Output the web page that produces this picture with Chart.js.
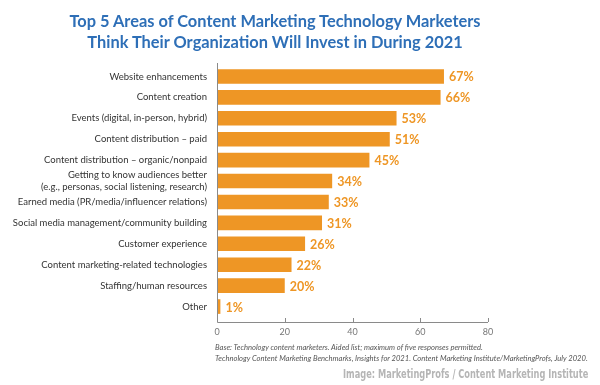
<!DOCTYPE html>
<html>
<head>
<meta charset="utf-8">
<script src="https://cdn.jsdelivr.net/npm/chart.js@4"></script>
<style>
  html, body { margin: 0; padding: 0; background: #fff; }
  #wrap { position: relative; width: 600px; height: 385px; overflow: hidden; }
  #title {
    position: absolute; left: 0; top: 10px; width: 550px; text-align: center;
    font-family: Lato, sans-serif; font-weight: bold; font-size: 16.4px; line-height: 21px;
    color: #2e6fb7;
  }
  .note {
    position: absolute; left: 215px; font-family: Lato, sans-serif; font-style: italic;
    font-size: 7.6px; color: #555; white-space: nowrap;
  }
  #credit {
    position: absolute; right: 12px; top: 366px; font-family: "DejaVu Sans", sans-serif;
    font-weight: bold; font-size: 13px; color: #b5b5b5; white-space: nowrap;
    transform: scaleX(0.635); transform-origin: right center;
  }
</style>
</head>
<body>
<div id="wrap">
  <div id="title">Top 5 Areas of Content Marketing Technology Marketers<br>Think Their Organization Will Invest in During 2021</div>
  <canvas id="chart" width="600" height="385"></canvas>
  <div class="note" style="top:342px">Base: Technology content marketers. Aided list; maximum of five responses permitted.</div>
  <div class="note" style="top:353px">Technology Content Marketing Benchmarks, Insights for 2021. Content Marketing Institute/MarketingProfs, July 2020.</div>
  <div id="credit">Image: MarketingProfs / Content Marketing Institute</div>
</div>
<script>
// Data
const categories = [
  'Website enhancements',
  'Content creation',
  'Events (digital, in-person, hybrid)',
  'Content distribution – paid',
  'Content distribution – organic/nonpaid',
  ['Getting to know audiences better', '(e.g., personas, social listening, research)'],
  'Earned media (PR/media/influencer relations)',
  'Social media management/community building',
  'Customer experience',
  'Content marketing-related technologies',
  'Staffing/human resources',
  'Other'
];
const percentages = [67, 66, 53, 51, 45, 34, 33, 31, 26, 22, 20, 1];
const xTicks = [0, 20, 40, 60, 80];

const barColor = '#ee9625';
const axisColor = '#8a8a8a';
const axisGap = 5; // the x axis sits a little below the last bar

// Value labels at the end of each bar
const valueLabels = {
  id: 'valueLabels',
  afterDatasetsDraw(chart) {
    const ctx = chart.ctx;
    const meta = chart.getDatasetMeta(0);
    ctx.save();
    ctx.font = 'bold 12.5px Lato, sans-serif';
    ctx.fillStyle = barColor;
    ctx.textBaseline = 'middle';
    meta.data.forEach((bar, i) => {
      ctx.fillText(percentages[i] + '%', bar.x + 5, bar.y + 1);
    });
    ctx.restore();
  }
};

// Axis lines and small upward ticks, drawn from the scales
const axisLines = {
  id: 'axisLines',
  afterDraw(chart) {
    const { ctx, chartArea } = chart;
    const xScale = chart.scales.x;
    const yBottom = chartArea.bottom + axisGap;
    ctx.save();
    ctx.strokeStyle = axisColor;
    ctx.lineWidth = 1;
    ctx.beginPath();
    ctx.moveTo(chartArea.left + 0.5, chartArea.top - 3);
    ctx.lineTo(chartArea.left + 0.5, yBottom + 0.5);
    ctx.lineTo(xScale.getPixelForValue(80), yBottom + 0.5);
    xTicks.forEach(t => {
      const x = Math.round(xScale.getPixelForValue(t)) + 0.5;
      ctx.moveTo(x, yBottom - 4);
      ctx.lineTo(x, yBottom);
    });
    ctx.stroke();
    ctx.restore();
  }
};

const ctx = document.getElementById('chart').getContext('2d');
new Chart(ctx, {
  type: 'bar',
  data: {
    labels: categories,
    datasets: [{
      data: percentages,
      backgroundColor: barColor,
      borderWidth: 0,
      categoryPercentage: 1,
      barPercentage: 0.7
    }]
  },
  options: {
    indexAxis: 'y',
    responsive: false,
    animation: false,
    layout: { padding: { top: 66, right: 112, bottom: 38, left: 0 } },
    plugins: {
      legend: { display: false },
      tooltip: { enabled: false }
    },
    scales: {
      x: {
        min: 0,
        max: 80,
        afterBuildTicks(scale) { scale.ticks = xTicks.map(v => ({ value: v })); },
        afterFit(scale) { scale.height = 30; },
        grid: { display: false, drawTicks: false },
        border: { display: false },
        ticks: {
          padding: 10,
          color: '#777',
          font: { family: 'Lato, sans-serif', size: 9 }
        }
      },
      y: {
        afterFit(scale) { scale.width = 217; },
        grid: { display: false, drawTicks: false },
        border: { display: false },
        ticks: {
          autoSkip: false,
          padding: 10,
          color: '#333',
          font: { family: 'Lato, sans-serif', size: 9.5, lineHeight: 1.3 }
        }
      }
    }
  },
  plugins: [valueLabels, axisLines]
});
</script>
</body>
</html>
